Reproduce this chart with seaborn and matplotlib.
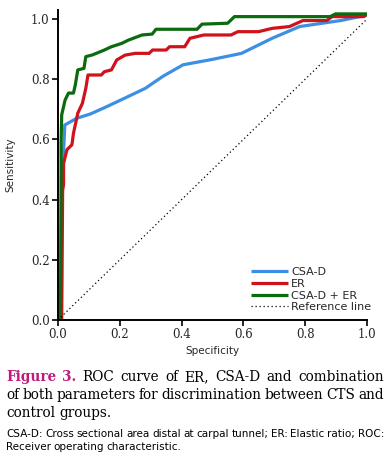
import pandas as pd
import seaborn as sns
import matplotlib.pyplot as plt

# ROC curves (specificity axis as drawn, sensitivity)
csa_x = [0.01, 0.012, 0.02, 0.022, 0.06, 0.106, 0.16, 0.228, 0.283, 0.34, 0.405, 0.5, 0.594, 0.693, 0.782, 0.915, 1.0]
csa_y = [0.0, 0.45, 0.6, 0.648, 0.67, 0.685, 0.71, 0.743, 0.77, 0.81, 0.848, 0.866, 0.886, 0.936, 0.975, 0.995, 1.013]

er_x = [0.012, 0.015, 0.018, 0.018, 0.029, 0.045, 0.05, 0.064, 0.079, 0.09, 0.097, 0.14, 0.15, 0.173, 0.19, 0.217,
        0.25, 0.295, 0.306, 0.35, 0.361, 0.41, 0.427, 0.472, 0.56, 0.582, 0.649, 0.693, 0.749, 0.793, 0.87, 0.887,
        0.99, 1.0]
er_y = [0.0, 0.43, 0.45, 0.52, 0.566, 0.582, 0.62, 0.687, 0.72, 0.77, 0.814, 0.814, 0.825, 0.831, 0.864, 0.88,
        0.886, 0.886, 0.897, 0.897, 0.908, 0.908, 0.936, 0.947, 0.947, 0.958, 0.958, 0.969, 0.975, 0.995, 0.995, 1.008,
        1.008, 1.017]

comb_x = [0.008, 0.01, 0.01, 0.012, 0.023, 0.034, 0.05, 0.056, 0.064, 0.084, 0.09, 0.112, 0.15, 0.173, 0.206,
          0.228, 0.272, 0.305, 0.317, 0.45, 0.466, 0.549, 0.571, 0.881, 0.898, 1.0]
comb_y = [0.0, 0.5, 0.588, 0.682, 0.731, 0.754, 0.754, 0.781, 0.831, 0.836, 0.875, 0.881, 0.897, 0.908, 0.919,
          0.93, 0.947, 0.95, 0.966, 0.966, 0.983, 0.986, 1.008, 1.008, 1.017, 1.017]

ref_x = [0.0, 1.0]
ref_y = [0.0, 1.0]

labels = ["CSA-D", "ER", "CSA-D + ER", "Reference line"]
colors = ["#3c8fe3", "#d0121c", "#0b6b0e", "black"]

frames = []
for lab, xs, ys in zip(labels, [csa_x, er_x, comb_x, ref_x], [csa_y, er_y, comb_y, ref_y]):
    frames.append(pd.DataFrame({"Specificity": xs, "Sensitivity": ys, "curve": lab}))
df = pd.concat(frames, ignore_index=True)

sns.set_style("ticks")
fig = plt.figure(figsize=(3.9, 4.58), dpi=100)
ax = fig.add_axes([58 / 390, 1 - 320 / 458, 309 / 390, 310 / 458])

for lab, col in zip(labels, colors):
    sub = df[df["curve"] == lab]
    if lab == "Reference line":
        sns.lineplot(data=sub, x="Specificity", y="Sensitivity", sort=False, estimator=None,
                     color=col, lw=0.9, ls=(0, (1, 2.2)), ax=ax, label=lab)
    else:
        sns.lineplot(data=sub, x="Specificity", y="Sensitivity", sort=False, estimator=None,
                     color=col, lw=2.3, ax=ax, label=lab, solid_capstyle="butt")

ax.set_xlim(0, 1.0)
ax.set_ylim(0, 1.03)
ax.set_xticks([0, 0.2, 0.4, 0.6, 0.8, 1.0])
ax.set_yticks([0, 0.2, 0.4, 0.6, 0.8, 1.0])
ax.set_xticklabels(["0.0", "0.2", "0.4", "0.6", "0.8", "1.0"], family="DejaVu Serif", fontsize=8.5)
ax.set_yticklabels(["0.0", "0.2", "0.4", "0.6", "0.8", "1.0"], family="DejaVu Serif", fontsize=8.5)
ax.tick_params(length=4, width=1.2, color="black", pad=2)
for s in ["top", "right"]:
    ax.spines[s].set_visible(False)
for s in ["left", "bottom"]:
    ax.spines[s].set_linewidth(1.4)
    ax.spines[s].set_color("black")
ax.set_xlabel("Specificity", family="DejaVu Sans", fontsize=7.5, labelpad=3)
ax.set_ylabel("Sensitivity", family="DejaVu Sans", fontsize=7.5, labelpad=11)

ax.legend(loc="lower left", bbox_to_anchor=(0.6, 0.0), frameon=False,
          handlelength=3.3, handletextpad=0.3, labelspacing=0.15, borderaxespad=0.3,
          prop={"family": "DejaVu Sans", "size": 8})

# caption, justified word by word
renderer = fig.canvas.get_renderer()
cap_font = {"family": "DejaVu Serif", "size": 9.8}
foot_font = {"family": "DejaVu Sans", "size": 7.5}


def put_line(words, y, justify, x0=6, x1=384):
    objs = []
    for w, extra in words:
        t = fig.text(0, 1 - y / 458, w, va="baseline", ha="left", **extra)
        objs.append(t)
    widths = [t.get_window_extent(renderer).width for t in objs]
    if justify and len(objs) > 1:
        gap = (x1 - x0 - sum(widths)) / (len(objs) - 1)
    else:
        gap = 4.0 if objs[0].get_fontsize() > 8 else 2.4
    x = x0
    for t, w in zip(objs, widths):
        t.set_x(x / 390)
        x += w + gap


pink = dict(cap_font, color="#c2197c", weight="bold")
norm = dict(cap_font, color="black")
small = dict(foot_font, color="black")

line1 = [("Figure", pink), ("3.", pink)] + [(w, norm) for w in "ROC curve of ER, CSA-D and combination".split()]
line2 = [(w, norm) for w in "of both parameters for discrimination between CTS and".split()]
line3 = [(w, norm) for w in "control groups.".split()]
line4 = [(w, small) for w in "CSA-D: Cross sectional area distal at carpal tunnel; ER: Elastic ratio; ROC:".split()]
line5 = [(w, small) for w in "Receiver operating characteristic.".split()]

put_line(line1, 381, True)
put_line(line2, 399, True)
put_line(line3, 417, False)
put_line(line4, 437, True)
put_line(line5, 450, False)

fig.savefig("out.png", dpi=100)
